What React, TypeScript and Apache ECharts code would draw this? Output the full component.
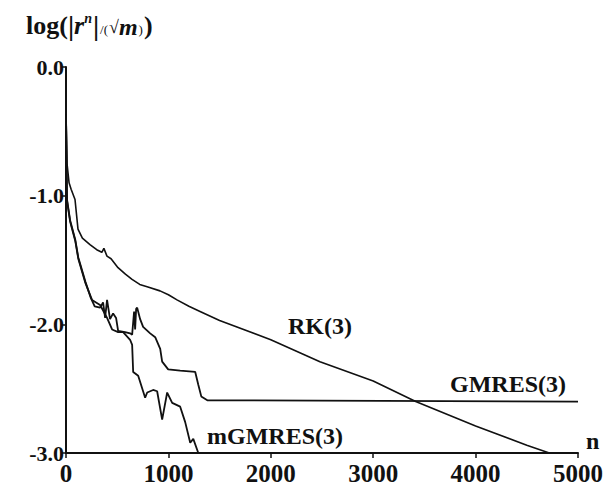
import React, { useEffect, useRef } from "react";
import * as echarts from "echarts";

const xTicks = [0, 1000, 2000, 3000, 4000, 5000];
const yTicks = [0, -1, -2, -3];

const rkN = [0, 10, 30, 50, 88, 117, 160, 234, 300, 350, 370, 400, 440, 508, 580, 645, 720, 800, 918, 1000, 1084, 1200, 1309, 1500, 2000, 2480, 3000, 3415, 4000, 4500, 4720];
const rkV = [-0.37, -0.75, -0.9, -0.95, -1.03, -1.26, -1.33, -1.38, -1.42, -1.44, -1.41, -1.47, -1.49, -1.56, -1.61, -1.65, -1.69, -1.71, -1.74, -1.77, -1.81, -1.86, -1.9, -1.97, -2.12, -2.29, -2.44, -2.6, -2.79, -2.94, -3.0];

const gmN = [0, 10, 40, 90, 120, 190, 240, 280, 333, 362, 382, 401, 430, 460, 489, 509, 577, 626, 646, 665, 675, 685, 695, 724, 753, 822, 871, 920, 939, 998, 1115, 1262, 1292, 1321, 1380, 5000];
const gmV = [-0.37, -1.03, -1.19, -1.34, -1.48, -1.67, -1.79, -1.86, -1.87, -1.83, -1.95, -1.81, -1.96, -1.915, -1.95, -2.05, -2.06, -2.07, -2.08, -1.9, -2.04, -1.88, -1.87, -1.96, -2.02, -2.07, -2.1, -2.19, -2.29, -2.35, -2.36, -2.37, -2.47, -2.56, -2.59, -2.6];

const mgN = [0, 10, 40, 90, 120, 190, 254, 333, 401, 450, 509, 558, 626, 646, 656, 705, 773, 793, 851, 890, 939, 988, 1037, 1115, 1164, 1213, 1243, 1292];
const mgV = [-0.37, -1.04, -1.2, -1.35, -1.49, -1.68, -1.81, -1.85, -1.95, -2.04, -2.06, -2.06, -2.12, -2.16, -2.37, -2.4, -2.57, -2.53, -2.51, -2.52, -2.74, -2.53, -2.61, -2.64, -2.76, -2.92, -2.89, -3.0];

const seriesNames = ["RK(3)", "GMRES(3)", "mGMRES(3)"];

const zip = (a: number[], b: number[]) => a.map((v, i) => [v, b[i]]);

export default function App() {
  const ref = useRef<HTMLDivElement>(null);
  useEffect(() => {
    if (!ref.current) return;
    const chart = echarts.init(ref.current, null, { renderer: "svg" });
    const font = "'Liberation Serif', 'Times New Roman', serif";
    const ink = "#111";
    chart.setOption({
      animation: false,
      backgroundColor: "#fff",
      grid: { left: 66, right: 36, top: 67, bottom: 32, containLabel: false },
      xAxis: {
        type: "value",
        min: 0,
        max: 5000,
        interval: 1000,
        name: "n",
        nameLocation: "end",
        nameGap: 8,
        nameTextStyle: { fontFamily: font, fontSize: 24, fontWeight: "bold", color: ink, verticalAlign: "bottom", padding: [0, 0, 0, 0] },
        axisLine: { onZero: false, lineStyle: { color: ink, width: 2 } },
        axisTick: { show: true, length: 5, lineStyle: { color: ink, width: 1.5 } },
        axisLabel: {
          fontFamily: font, fontSize: 25, fontWeight: "bold", color: ink, margin: 8,
          formatter: (v: number) => (xTicks.includes(v) ? String(v) : ""),
        },
        splitLine: { show: false },
      },
      yAxis: {
        type: "value",
        min: -3,
        max: 0,
        interval: 1,
        axisLine: { show: true, onZero: false, lineStyle: { color: ink, width: 2 } },
        axisTick: { show: true, length: 4, lineStyle: { color: ink, width: 1.5 } },
        axisLabel: {
          fontFamily: font, fontSize: 22, fontWeight: "bold", color: ink, margin: 2,
          formatter: (v: number) => (yTicks.includes(v) ? v.toFixed(1) : ""),
        },
        splitLine: { show: false },
      },
      series: [
        { name: seriesNames[0], type: "line", data: zip(rkN, rkV), symbol: "none", lineStyle: { color: ink, width: 1.6 }, z: 3 },
        { name: seriesNames[1], type: "line", data: zip(gmN, gmV), symbol: "none", lineStyle: { color: ink, width: 1.8 }, z: 3 },
        { name: seriesNames[2], type: "line", data: zip(mgN, mgV), symbol: "none", lineStyle: { color: ink, width: 1.8 }, z: 3 },
      ],
      graphic: [
        {
          type: "text", left: 26, top: 11,
          style: {
            text: "{a|log(}{b||}{r|r}{c|n}{b||}{d|/(}{s|√}{e|m}{d|)}{a|)}",
            fill: ink,
            rich: {
              a: { fontFamily: font, fontSize: 26, fontWeight: "bold", fill: ink },
              b: { fontFamily: font, fontSize: 28, fontWeight: "bold", fill: ink },
              r: { fontFamily: font, fontSize: 26, fontWeight: "bold", fontStyle: "italic", fill: ink },
              c: { fontFamily: font, fontSize: 14, fontStyle: "italic", fontWeight: "bold", fill: ink, verticalAlign: "top", padding: [0, 1, 12, 0] },
              d: { fontFamily: font, fontSize: 13, fill: ink, padding: [8, 1, 0, 1] },
              s: { fontFamily: font, fontSize: 18, fill: ink, padding: [4, 0, 0, 0] },
              e: { fontFamily: font, fontSize: 24, fontWeight: "bold", fontStyle: "italic", fill: ink, padding: [3, 0, 0, 0] },
            },
          },
        },
        { type: "text", left: 288, top: 314, style: { text: seriesNames[0], fontFamily: font, fontSize: 24, fontWeight: "bold", fill: ink } },
        { type: "text", left: 450, top: 372, style: { text: seriesNames[1], fontFamily: font, fontSize: 24, fontWeight: "bold", fill: ink } },
        { type: "text", left: 207, top: 424, style: { text: seriesNames[2], fontFamily: font, fontSize: 24, fontWeight: "bold", fill: ink } },
      ],
    });
    return () => chart.dispose();
  }, []);
  return <div ref={ref} style={{ position: "fixed", left: 0, top: 0, width: 614, height: 486, background: "#fff" }} />;
}
